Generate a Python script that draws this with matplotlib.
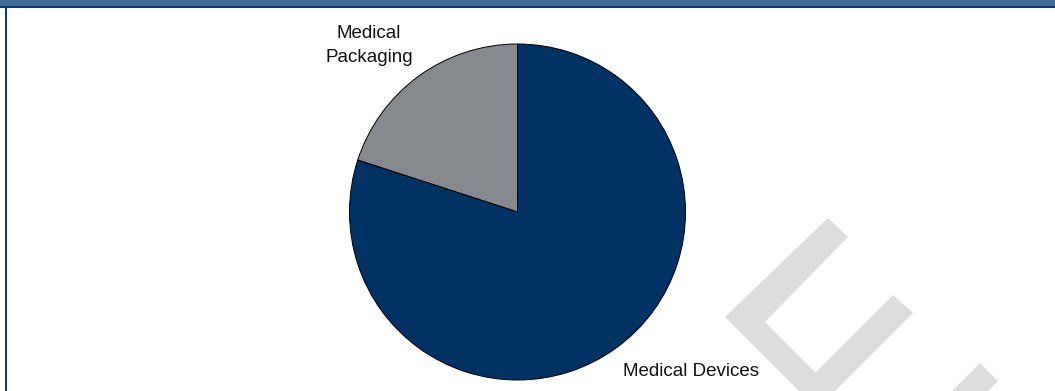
import matplotlib.pyplot as plt
from matplotlib.patches import Rectangle, Polygon

# slice data (drawn counter-clockwise from 12 o'clock)
segments = ['Medical\nPackaging', 'Medical Devices']
shares = [20, 80]
colors = ['#868a8e', '#013264']

W, H = 1055, 391
plt.rcParams['font.family'] = ['Liberation Sans', 'DejaVu Sans']

fig = plt.figure(figsize=(W / 100, H / 100), dpi=100)


def fx(px):
    return px / W


def fy(py):
    return 1 - py / H


# header band and frame line
fig.patches.append(Rectangle((0, fy(6)), 1, 6 / H, transform=fig.transFigure,
                             facecolor='#3e6b9c', edgecolor='none'))
fig.patches.append(Rectangle((0, fy(8)), 1, 2 / H, transform=fig.transFigure,
                             facecolor='#0b3b6c', edgecolor='none'))
fig.patches.append(Rectangle((fx(5), 0), 2 / W, fy(8), transform=fig.transFigure,
                             facecolor='#0b3b6c', edgecolor='none'))

# faint watermark shapes in the lower right
wm1 = [(828, 218), (725, 317), (817, 409), (913, 313), (893, 295),
       (815.5, 372.5), (765, 322), (848, 237)]
wm2 = [(980, 363), (998, 381), (958, 421), (940, 403)]
for shape in (wm1, wm2):
    fig.patches.append(Polygon([(fx(x), fy(y)) for x, y in shape], closed=True,
                               transform=fig.transFigure, facecolor='#dcdcdc',
                               edgecolor='none'))

# pie axes: centre (517.5, 212) px, radius 168 px
cx, cy, r = 517.5, 212, 168
ax = fig.add_axes([fx(cx - r), fy(cy + r), 2 * r / W, 2 * r / H])
ax.pie(shares, colors=colors, startangle=90, counterclock=True,
       wedgeprops=dict(edgecolor='black', linewidth=0.7))
ax.set_xlim(-1, 1)
ax.set_ylim(-1, 1)
ax.set_aspect('equal')
ax.axis('off')

ax.text((369 - cx) / r, (cy - 62) / r, segments[0], ha='center', va='baseline',
        fontsize=13.5, color='#111111', linespacing=1.5)
ax.text((623 - cx) / r, (cy - 376) / r, segments[1], ha='left', va='baseline',
        fontsize=13.5, color='#111111', clip_on=False)

fig.savefig('out.png', dpi=100)
